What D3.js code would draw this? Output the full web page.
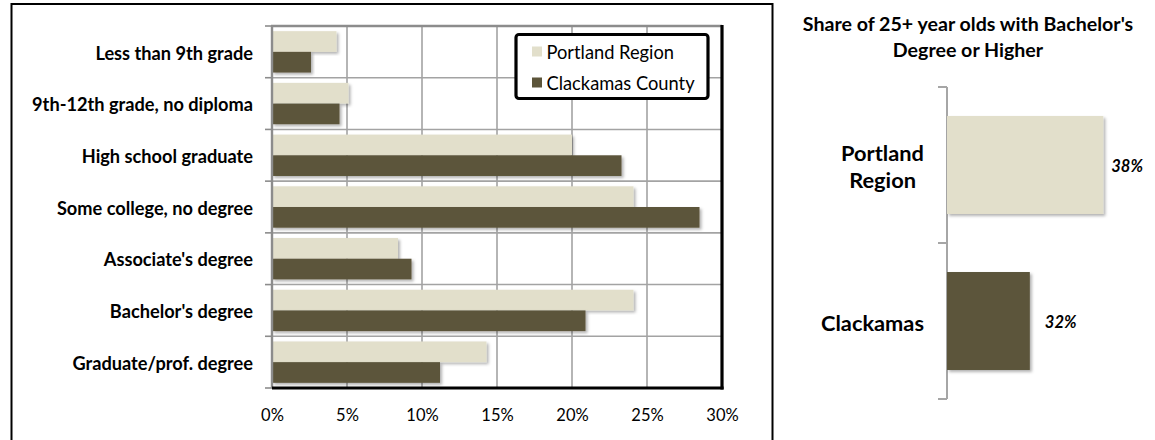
<!DOCTYPE html>
<html>
<head>
<meta charset="utf-8">
<script src="https://cdn.jsdelivr.net/npm/d3@7/dist/d3.min.js"></script>
<style>
  html, body { margin: 0; padding: 0; background: #fff; }
  svg { display: block; }
  text { font-family: Lato, "Open Sans", sans-serif; fill: #000; }
</style>
</head>
<body>
<svg id="chart" width="1155" height="440"></svg>
<script>
// Educational attainment categories (population 25+)
const categories = [
  "Less than 9th grade",
  "9th-12th grade, no diploma",
  "High school graduate",
  "Some college, no degree",
  "Associate's degree",
  "Bachelor's degree",
  "Graduate/prof. degree"
];
const seriesNames = ["Portland Region", "Clackamas County"];
const portlandShares = [0.043, 0.051, 0.200, 0.241, 0.084, 0.241, 0.143];
const clackamasShares = [0.026, 0.045, 0.233, 0.285, 0.093, 0.209, 0.112];
const xTickValues = [0, 0.05, 0.10, 0.15, 0.20, 0.25, 0.30];

// Bachelor's degree or higher
const shareTitle = ["Share of 25+ year olds with Bachelor's", "Degree or Higher"];
const shareCategories = ["Portland Region", "Clackamas"];
const shareLabelLines = [["Portland", "Region"], ["Clackamas"]];
const shareValues = [0.384, 0.321];

const colors = { "Portland Region": "#E2DFCB", "Clackamas County": "#5C553A" };
const shareColors = ["#E2DFCB", "#5C553A"];
const gridColor = "#A3A3A3";

const svg = d3.select("#chart");

// soft drop shadow used on bars
const defs = svg.append("defs");
defs.append("filter").attr("id", "shadow")
  .attr("x", "-5%").attr("y", "-10%").attr("width", "115%").attr("height", "130%")
  .append("feDropShadow")
  .attr("dx", 2).attr("dy", 2).attr("stdDeviation", 1.4)
  .attr("flood-color", "#000").attr("flood-opacity", 0.3);

// outer frame of the left chart
svg.append("rect")
  .attr("x", 11.5).attr("y", 4).attr("width", 761).attr("height", 470)
  .attr("fill", "none").attr("stroke", "#000").attr("stroke-width", 2);

// ---------- left: grouped horizontal bars ----------
const plot = { left: 272, right: 722, top: 26, bottom: 388 };

const x = d3.scaleLinear().domain([0, 0.30]).range([plot.left, plot.right]);
const y = d3.scaleBand().domain(categories)
  .range([plot.top, plot.bottom]).paddingInner(0.2).paddingOuter(0.1);
const ySub = d3.scaleBand().domain(seriesNames).range([0, y.bandwidth()]);

const left = svg.append("g");

// vertical gridlines
left.append("g").selectAll("line").data(xTickValues.slice(1, -1)).join("line")
  .attr("x1", d => x(d)).attr("x2", d => x(d))
  .attr("y1", plot.top).attr("y2", plot.bottom)
  .attr("stroke", gridColor).attr("stroke-width", 1.6);

// horizontal gridlines at category boundaries
const boundaries = categories.map((c, i) => plot.top + i * y.step());
boundaries.push(plot.bottom);
left.append("g").selectAll("line").data(boundaries.slice(1, -1)).join("line")
  .attr("x1", plot.left).attr("x2", plot.right)
  .attr("y1", d => d).attr("y2", d => d)
  .attr("stroke", gridColor).attr("stroke-width", 1.6);

// category boundary ticks on the vertical axis
left.append("g").selectAll("line").data(boundaries).join("line")
  .attr("x1", plot.left - 7).attr("x2", plot.left)
  .attr("y1", d => d).attr("y2", d => d)
  .attr("stroke", "#8C8C8C").attr("stroke-width", 1.6);

// bars
const rows = categories.map((c, i) => ({
  category: c,
  values: [
    { series: seriesNames[0], value: portlandShares[i] },
    { series: seriesNames[1], value: clackamasShares[i] }
  ]
}));

left.append("g").selectAll("g").data(rows).join("g")
  .attr("transform", d => `translate(0,${y(d.category)})`)
  .selectAll("rect").data(d => d.values).join("rect")
  .attr("x", x(0))
  .attr("y", d => ySub(d.series))
  .attr("width", d => x(d.value) - x(0))
  .attr("height", ySub.bandwidth())
  .attr("fill", d => colors[d.series])
  .attr("filter", "url(#shadow)");

// plot frame: gray top/left, heavy black right/bottom
left.append("line").attr("x1", plot.left - 1).attr("x2", plot.right)
  .attr("y1", plot.top).attr("y2", plot.top)
  .attr("stroke", "#8C8C8C").attr("stroke-width", 2.4);
left.append("line").attr("x1", plot.left).attr("x2", plot.left)
  .attr("y1", plot.top).attr("y2", plot.bottom)
  .attr("stroke", "#8C8C8C").attr("stroke-width", 2.4);
left.append("line").attr("x1", plot.right).attr("x2", plot.right)
  .attr("y1", plot.top - 1).attr("y2", plot.bottom + 1.5)
  .attr("stroke", "#000").attr("stroke-width", 3.2);
left.append("line").attr("x1", plot.left).attr("x2", plot.right + 1.6)
  .attr("y1", plot.bottom).attr("y2", plot.bottom)
  .attr("stroke", "#000").attr("stroke-width", 3.2);

// category labels
const yAxis = left.append("g")
  .attr("transform", `translate(${plot.left},0)`)
  .call(d3.axisLeft(y).tickSize(0).tickPadding(19));
yAxis.select(".domain").remove();
yAxis.selectAll("text")
  .attr("dy", "0.42em")
  .style("font-family", "Lato, sans-serif")
  .style("font-weight", "700")
  .style("font-size", "18.2px")
  .attr("fill", "#000");

// percentage axis
const xAxis = left.append("g")
  .attr("transform", `translate(0,${plot.bottom})`)
  .call(d3.axisBottom(x).tickValues(xTickValues).tickFormat(d3.format(".0%")).tickSize(0).tickPadding(21));
xAxis.select(".domain").remove();
xAxis.selectAll("text")
  .attr("dy", "0.71em")
  .style("font-family", "Lato, sans-serif")
  .style("font-size", "16.5px")
  .attr("fill", "#000");

// legend
const legend = left.append("g").attr("transform", "translate(516,34.5)");
legend.append("rect")
  .attr("width", 192).attr("height", 64).attr("rx", 3)
  .attr("fill", "#fff").attr("stroke", "#000").attr("stroke-width", 3.2);
seriesNames.forEach((name, i) => {
  const row = legend.append("g").attr("transform", `translate(16,${12 + i * 31})`);
  row.append("rect").attr("width", 10).attr("height", 10).attr("fill", colors[name]);
  row.append("text").attr("x", 14.5).attr("y", 12.5)
    .style("font-size", "18.3px").text(name);
});

// ---------- right: share with bachelor's or higher ----------
const right = svg.append("g");

right.append("g").selectAll("text").data(shareTitle).join("text")
  .attr("x", 968).attr("y", (d, i) => 30.5 + i * 26)
  .attr("text-anchor", "middle")
  .style("font-weight", "700").style("font-size", "19.6px")
  .text(d => d);

const sx = d3.scaleLinear().domain([0.25, 0.40]).range([947, 1122]);
const sy = d3.scaleBand().domain(shareCategories)
  .range([87, 399]).paddingInner(0.372).paddingOuter(0.186);

// category axis
right.append("line").attr("x1", 947).attr("x2", 947).attr("y1", 87).attr("y2", 399)
  .attr("stroke", "#A6A6A6").attr("stroke-width", 2);
const shareTicks = shareCategories.map(c => sy(c) - sy.step() * sy.paddingOuter());
shareTicks.push(399);
right.append("g").selectAll("line").data(shareTicks).join("line")
  .attr("x1", 938).attr("x2", 947).attr("y1", d => d).attr("y2", d => d)
  .attr("stroke", "#A6A6A6").attr("stroke-width", 2);

const shareRows = shareCategories.map((c, i) => ({
  category: c, value: shareValues[i], color: shareColors[i], lines: shareLabelLines[i]
}));

right.append("g").selectAll("rect").data(shareRows).join("rect")
  .attr("x", sx.range()[0]).attr("y", d => sy(d.category))
  .attr("width", d => sx(d.value) - sx.range()[0])
  .attr("height", sy.bandwidth())
  .attr("fill", d => d.color)
  .attr("filter", "url(#shadow)");

// value labels, kept inside the chart on the right
const fmt = d3.format(".0%");
right.append("g").selectAll("text").data(shareRows).join("text")
  .attr("y", d => sy(d.category) + sy.bandwidth() / 2 + 7)
  .style("font-weight", "700").style("font-style", "italic").style("font-size", "16.5px")
  .text(d => fmt(d.value))
  .attr("x", function (d) {
    const w = this.getComputedTextLength();
    return Math.min(sx(d.value) + 15, 1143 - w);
  });

// category labels, right-aligned block with centred lines
right.append("g").selectAll("g").data(shareRows).join("g")
  .each(function (d) {
    const g = d3.select(this);
    const cy = sy(d.category) + sy.bandwidth() / 2;
    const lh = 26.7;
    const texts = g.selectAll("text").data(d.lines).join("text")
      .attr("text-anchor", "middle")
      .attr("y", (t, i) => cy + 9.5 - (d.lines.length - 1) * lh / 2 + i * lh)
      .style("font-weight", "700").style("font-size", "21.8px")
      .text(t => t);
    let maxW = 0;
    texts.each(function () { maxW = Math.max(maxW, this.getComputedTextLength()); });
    texts.attr("x", 924 - maxW / 2);
  });
</script>
</body>
</html>
